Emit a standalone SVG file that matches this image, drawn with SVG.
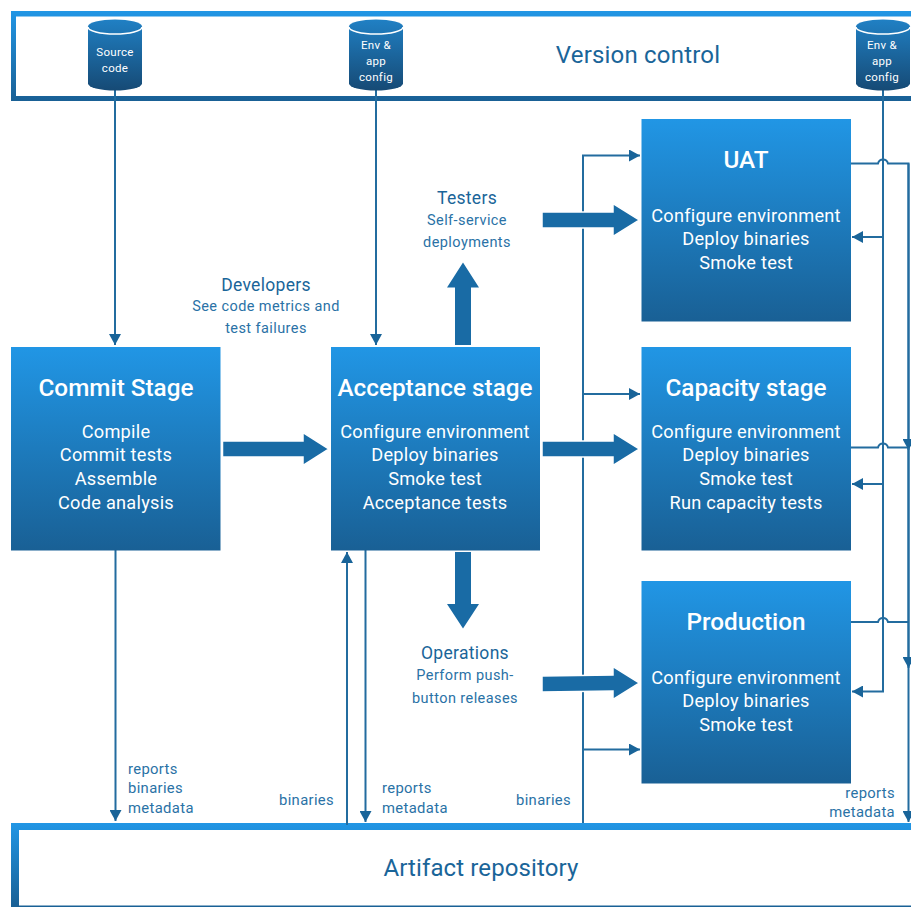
<svg xmlns="http://www.w3.org/2000/svg" width="911" height="907" viewBox="0 0 911 907">
<style>
text{font-family:"Roboto","Liberation Sans",sans-serif;text-anchor:middle}
.t{font-size:24.3px;font-weight:500;fill:#fff}
.b{font-size:18.2px;fill:#fff;letter-spacing:.25px}
.c{font-size:11.5px;fill:#fff;letter-spacing:.3px}
.h{font-size:24px;fill:#1a6599;letter-spacing:.2px}
.p{font-size:17.5px;fill:#1a6599;letter-spacing:.3px}
.s{font-size:14.5px;fill:#2a72a6;letter-spacing:.42px}
.l{font-size:14.8px;fill:#2a72a6;text-anchor:start;letter-spacing:.35px}
.box{fill:url(#g)}
.w{fill:none;stroke:#236c9f;stroke-width:2}
.f{fill:#196ba5}
</style>
<defs>
<linearGradient id="g" x1="0" y1="0" x2="0" y2="1"><stop offset="0" stop-color="#2196e5"/><stop offset="1" stop-color="#196095"/></linearGradient>
<linearGradient id="cy" x1="0" y1="0" x2="0" y2="1"><stop offset="0" stop-color="#2080c4"/><stop offset="1" stop-color="#164a75"/></linearGradient>
<marker id="a" markerUnits="userSpaceOnUse" markerWidth="12" markerHeight="12" refX="11" refY="6" orient="auto"><path d="M0 0L11 6L0 12Z" fill="#196499"/></marker>
<path id="cyl" d="M0 7A27 7 0 0 1 54 7V64A27 7 0 0 1 0 64Z" fill="url(#cy)"/>
</defs>

<g id="version-control">
<path class="box" fill-rule="evenodd" d="M11 11H911V101H11ZM16 16.500V96H911V16.500Z"/>
<text class="h" x="638" y="63">Version control</text>
</g>
<g id="artifact-repository">
<path class="box" fill-rule="evenodd" d="M11 823H911V907H11ZM19 830V905.500H911V830Z"/>
<text class="h" x="481" y="876" style="letter-spacing:.12px">Artifact repository</text>
</g>

<g id="connectors">
<path class="w" d="M115 90V345" marker-end="url(#a)"/>
<path class="w" d="M376 90V345" marker-end="url(#a)"/>
<path class="w" d="M115.500 550V821" marker-end="url(#a)"/>
<path class="w" d="M347 825V552" marker-end="url(#a)"/>
<path class="w" d="M365.500 550V822" marker-end="url(#a)"/>
<path class="w" d="M583 823V155.500H640" marker-end="url(#a)"/>
<path class="w" d="M583 394H640" marker-end="url(#a)"/>
<path class="w" d="M583 749.500H640" marker-end="url(#a)"/>
<path class="w" d="M883 90V691.500H852" marker-end="url(#a)"/>
<path class="w" d="M883 237H852" marker-end="url(#a)"/>
<path class="w" d="M883 484H852" marker-end="url(#a)"/>
<path class="w" d="M851 163.500H878Q879 159.500 883 159.500Q887 159.500 888 163.500H908.500V822" marker-end="url(#a)"/>
<path class="w" d="M851 447.500H878Q879 443.500 883 443.500Q887 443.500 888 447.500H908.500"/>
<path class="w" d="M851 622H878Q879 618 883 618Q887 618 888 622H908.500"/>
<path class="w" d="M908.500 163.500V450" marker-end="url(#a)"/>
<path class="w" d="M908.500 447.500V668" marker-end="url(#a)"/>
</g>

<g id="flow-arrows">
<path class="f" stroke="#fff" stroke-width="1.500" d="M222.500 441H303V432.500L329 449L303 465.500V457H222.500Z"/>
<path class="f" stroke="#fff" stroke-width="1.500" d="M542 212H613V203.500L639.500 220L613 236.500V228H542Z"/>
<path class="f" stroke="#fff" stroke-width="1.500" d="M542 441H613V432.500L639.500 449L613 465.500V457H542Z"/>
<path class="f" stroke="#fff" stroke-width="1.500" d="M542 676L613 675V666.500L639.500 683L613 699.500V691L542 692Z"/>
<path class="f" d="M455 345V287.500H447L463 262.500L479 287.500H471V345Z"/>
<path class="f" d="M455 552V604H447L463 628.500L479 604H471V552Z"/>
</g>

<g id="source-code"><use href="#cyl" x="88" y="19.500"/><path d="M88 27A27 7 0 0 0 142 27" fill="none" stroke="#fff" stroke-width="1.500"/>
<text class="c" x="115" y="56">Source</text><text class="c" x="115" y="72">code</text></g>
<g id="env-config-1"><use href="#cyl" x="349" y="19.500"/><path d="M349 27A27 7 0 0 0 403 27" fill="none" stroke="#fff" stroke-width="1.500"/>
<text class="c" x="376" y="49">Env &amp;</text><text class="c" x="376" y="65">app</text><text class="c" x="376" y="81">config</text></g>
<g id="env-config-2"><use href="#cyl" x="856" y="19.500"/><path d="M856 27A27 7 0 0 0 910 27" fill="none" stroke="#fff" stroke-width="1.500"/>
<text class="c" x="882" y="49">Env &amp;</text><text class="c" x="882" y="65">app</text><text class="c" x="882" y="81">config</text></g>

<g id="commit-stage"><rect class="box" x="11" y="347" width="209.500" height="203.500"/>
<text class="t" x="116" y="396">Commit Stage</text>
<text class="b" x="116" y="438">Compile</text><text class="b" x="116" y="461">Commit tests</text><text class="b" x="116" y="485">Assemble</text><text class="b" x="116" y="509">Code analysis</text></g>
<g id="acceptance-stage"><rect class="box" x="331" y="347" width="209" height="203.500"/>
<text class="t" x="435" y="396">Acceptance stage</text>
<text class="b" x="435" y="438">Configure environment</text><text class="b" x="435" y="461">Deploy binaries</text><text class="b" x="435" y="485">Smoke test</text><text class="b" x="435" y="509">Acceptance tests</text></g>
<g id="uat"><rect class="box" x="641.500" y="119" width="209.500" height="202.500"/>
<text class="t" x="746" y="168">UAT</text>
<text class="b" x="746" y="222">Configure environment</text><text class="b" x="746" y="245">Deploy binaries</text><text class="b" x="746" y="269">Smoke test</text></g>
<g id="capacity-stage"><rect class="box" x="641.500" y="347" width="209.500" height="203.500"/>
<text class="t" x="746" y="396">Capacity stage</text>
<text class="b" x="746" y="438">Configure environment</text><text class="b" x="746" y="461">Deploy binaries</text><text class="b" x="746" y="485">Smoke test</text><text class="b" x="746" y="509">Run capacity tests</text></g>
<g id="production"><rect class="box" x="641.500" y="581" width="209.500" height="202.500"/>
<text class="t" x="746" y="630">Production</text>
<text class="b" x="746" y="684">Configure environment</text><text class="b" x="746" y="707">Deploy binaries</text><text class="b" x="746" y="731">Smoke test</text></g>

<g id="labels">
<text class="p" x="266" y="291">Developers</text><text class="s" x="266" y="311">See code metrics and</text><text class="s" x="266" y="333">test failures</text>
<text class="p" x="467" y="204">Testers</text><text class="s" x="467" y="225">Self-service</text><text class="s" x="467" y="247">deployments</text>
<text class="p" x="465" y="659">Operations</text><text class="s" x="465" y="680">Perform push-</text><text class="s" x="465" y="703">button releases</text>
<text class="l" x="128" y="774">reports</text><text class="l" x="128" y="793">binaries</text><text class="l" x="128" y="813">metadata</text>
<text class="l" x="279" y="805">binaries</text>
<text class="l" x="382" y="793">reports</text><text class="l" x="382" y="813">metadata</text>
<text class="l" x="516" y="805">binaries</text>
<text class="l" x="895" y="798" style="text-anchor:end">reports</text><text class="l" x="895" y="817" style="text-anchor:end">metadata</text>
</g>
</svg>
